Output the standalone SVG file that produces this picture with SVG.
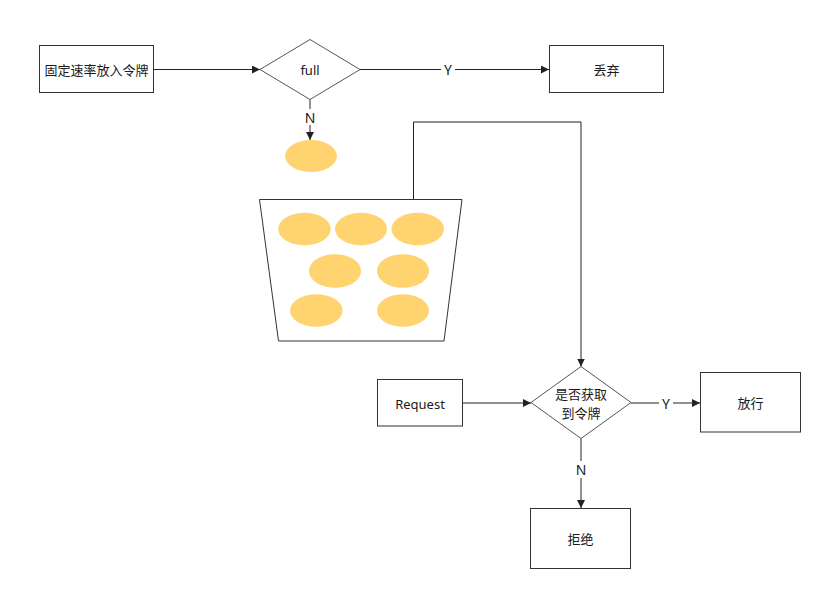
<svg xmlns="http://www.w3.org/2000/svg" width="839" height="607" viewBox="0 0 839 607">
<style>
.box{fill:#fff;stroke:#333;stroke-width:1}
.dia{fill:#fff;stroke:#555;stroke-width:1}
.tok{fill:#ffd470}
.t{font-family:"Noto Sans CJK SC","Noto Sans",sans-serif;font-size:13px;fill:#1a1a1a;text-anchor:middle;dominant-baseline:central}
.lbl{font-family:"Noto Sans","Noto Sans CJK SC",sans-serif;font-size:13px;fill:#1a1a1a;text-anchor:middle;dominant-baseline:central}
.yn{font-family:"Noto Sans","Noto Sans CJK SC",sans-serif;font-size:14px;fill:#1a1a1a;text-anchor:middle;dominant-baseline:central}
.ln{fill:none;stroke:#222;stroke-width:1}
</style>
<defs>
<marker id="ah" viewBox="0 0 10 10" refX="10" refY="5" markerWidth="8" markerHeight="8" markerUnits="userSpaceOnUse" orient="auto">
<path d="M0,0 L10,5 L0,10 Z" fill="#222"/>
</marker>
</defs>
<rect width="839" height="607" fill="#fff"/>
<g id="connectors">
<path class="ln" d="M153,69.5 L260,69.5" marker-end="url(#ah)"/>
<path class="ln" d="M360,69.5 L549,69.5" marker-end="url(#ah)"/>
<rect x="441" y="62" width="14" height="15" fill="#fff"/>
<text class="yn" x="448" y="69.5">Y</text>
<path class="ln" d="M310,99.5 L310,140" marker-end="url(#ah)"/>
<rect x="303" y="109" width="14" height="16" fill="#fff"/>
<text class="yn" x="310" y="117">N</text>
<path class="ln" d="M413.5,199 L413.5,122 L581,122 L581,366.5" marker-end="url(#ah)"/>
<path class="ln" d="M462,403 L531,403" marker-end="url(#ah)"/>
<path class="ln" d="M631,403 L700,403" marker-end="url(#ah)"/>
<rect x="659" y="395" width="14" height="16" fill="#fff"/>
<text class="yn" x="666" y="403">Y</text>
<path class="ln" d="M581,438.5 L581,508" marker-end="url(#ah)"/>
<rect x="574" y="461" width="14" height="17" fill="#fff"/>
<text class="yn" x="581" y="469.5">N</text>
</g>
<g id="node-fixed-rate">
<rect class="box" x="39.5" y="45.5" width="114" height="47"/>
<text class="t" x="96.5" y="69">固定速率放入令牌</text>
</g>
<g id="node-full">
<polygon class="dia" points="310,39.5 360,69.5 310,99.5 260,69.5"/>
<text class="lbl" x="310" y="69.5">full</text>
</g>
<g id="node-discard">
<rect class="box" x="549.5" y="45.5" width="114" height="47"/>
<text class="t" x="606.5" y="69">丢弃</text>
</g>
<g id="node-token">
<ellipse class="tok" cx="311" cy="156" rx="26" ry="16"/>
</g>
<g id="node-bucket">
<polygon class="box" points="259.5,199.5 462,199.5 444,341 278.5,341"/>
<ellipse class="tok" cx="304.5" cy="229" rx="26.3" ry="16.3"/>
<ellipse class="tok" cx="361" cy="229" rx="26" ry="16.3"/>
<ellipse class="tok" cx="417.7" cy="229" rx="26.3" ry="16.3"/>
<ellipse class="tok" cx="335" cy="271" rx="26" ry="16.8"/>
<ellipse class="tok" cx="403" cy="271" rx="26" ry="16.8"/>
<ellipse class="tok" cx="316.3" cy="310.5" rx="26.3" ry="16.3"/>
<ellipse class="tok" cx="403" cy="310.5" rx="26" ry="16.3"/>
</g>
<g id="node-request">
<rect class="box" x="377.5" y="379.5" width="85" height="46.5"/>
<text class="lbl" x="420" y="404">Request</text>
</g>
<g id="node-get-token">
<polygon class="dia" points="581,366.5 631,402.5 581,438.5 531,402.5"/>
<text class="t" x="581" y="393">是否获取</text>
<text class="t" x="581" y="412">到令牌</text>
</g>
<g id="node-pass">
<rect class="box" x="700.5" y="372.5" width="100" height="59.5"/>
<text class="t" x="750.5" y="402">放行</text>
</g>
<g id="node-reject">
<rect class="box" x="530.5" y="508.5" width="100" height="60"/>
<text class="t" x="580.5" y="538">拒绝</text>
</g>
</svg>
